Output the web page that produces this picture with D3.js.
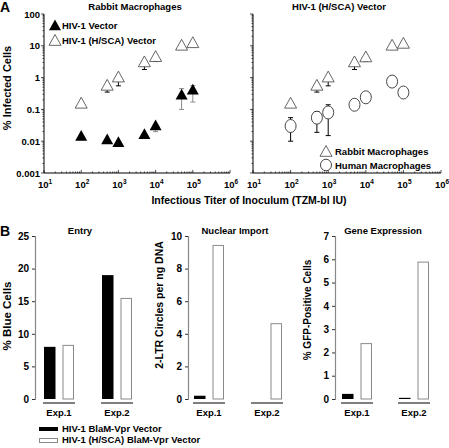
<!DOCTYPE html>
<html><head><meta charset="utf-8">
<script src="https://cdn.jsdelivr.net/npm/d3@7"></script>
<style>body{margin:0;background:#fff}svg{display:block;font-family:"Liberation Sans",Arial,sans-serif;font-weight:bold}</style>
</head><body><svg id="c" width="449" height="448"></svg>
<script>
// Panel A data
const titers = [100, 500, 1000, 5000, 10000, 50000, 100000];
const hivVector = [0.014, 0.011, 0.009, 0.016, 0.03, 0.28, 0.4];
const hivVectorLo = [0.011, null, null, null, 0.02, 0.1, 0.17];
const hivVectorHi = [null, null, null, null, null, 0.45, 0.56];
const hscaRabbit = [0.15, 0.55, 1.0, 3.0, 4.4, 10, 12];
const hscaRabbitLo = [null, 0.35, 0.55, 1.8, 3.2, null, null];
const hscaRabbit2 = [0.15, 0.55, 1.0, 3.0, 4.3, 10, 11.5];
const humanMac = [0.03, 0.055, 0.08, 0.14, 0.24, 0.75, 0.34];
const humanMacLo = [0.01, 0.019, 0.015, 0.1, null, null, null];
const humanMacHi = [0.055, 0.085, 0.14, null, null, null, null];
const yTicksA = [0.001, 0.01, 0.1, 1, 10, 100];
const yTickLabelsA = ["0.001", "0.01", "0.1", "1", "10", "100"];
const xExpA = [1, 2, 3, 4, 5, 6];
// Panel B data
const experiments = ["Exp.1", "Exp.2"];
const entryBlaM = [8.0, 19.0];
const entryHSCA = [8.3, 15.5];
const importBlaM = [0.2, 0];
const importHSCA = [9.45, 4.65];
const geneBlaM = [0.22, 0.05];
const geneHSCA = [2.4, 5.9];

const svg = d3.select("#c");
const gray = "#8a8a8a";

// Panel letters
svg.append("text").attr("x", 0).attr("y", 12).attr("font-size", 14).text("A");
svg.append("text").attr("x", 0).attr("y", 236).attr("font-size", 14).text("B");

const yA = d3.scaleLog().domain([0.001, 100]).range([173, 14]);

function triPath(cx, cy, s) {
  const h = s * 0.9;
  return `M${cx},${cy - h * 0.6}L${cx + s / 2},${cy + h * 0.4}L${cx - s / 2},${cy + h * 0.4}Z`;
}

function logPanel(x0, x1, showY) {
  const x = d3.scaleLog().domain([10, 1e6]).range([x0, x1]);
  const g = svg.append("g");
  g.append("line").attr("x1", x0).attr("x2", x1).attr("y1", 173).attr("y2", 173).attr("stroke", "#000").attr("stroke-width", 1);
  g.append("line").attr("x1", x0).attr("x2", x0).attr("y1", 14).attr("y2", 173).attr("stroke", "#000").attr("stroke-width", 1);
  for (let e = 1; e <= 6; e++) {
    for (let m = 1; m <= 9; m++) {
      const v = m * Math.pow(10, e);
      if (v > 1e6) break;
      const len = m === 1 ? 3 : 1.5;
      g.append("line").attr("x1", x(v)).attr("x2", x(v)).attr("y1", 173).attr("y2", 173 - len).attr("stroke", "#000").attr("stroke-width", 0.7);
    }
  }
  xExpA.forEach(e => {
    const t = g.append("text").attr("x", x(Math.pow(10, e)) + 1).attr("y", 188).attr("text-anchor", "middle").attr("font-size", 9.5);
    t.append("tspan").text("10");
    t.append("tspan").attr("dy", -4).attr("font-size", 6.5).text(e);
  });
  for (let e = -3; e <= 2; e++) {
    for (let m = 1; m <= 9; m++) {
      const v = m * Math.pow(10, e);
      if (v > 100) break;
      const len = m === 1 ? 3 : 1.5;
      g.append("line").attr("x1", x0).attr("x2", x0 - len).attr("y1", yA(v)).attr("y2", yA(v)).attr("stroke", "#000").attr("stroke-width", 0.7);
    }
  }
  if (showY) {
    yTicksA.forEach((v, i) => {
      g.append("text").attr("x", x0 - 4).attr("y", yA(v) + 3.5).attr("text-anchor", "end").attr("font-size", 9.5).text(yTickLabelsA[i]);
    });
  }
  return { x, g };
}

function errBars(g, x, xs, vals, lo, hi, color) {
  xs.forEach((t, i) => {
    [lo ? lo[i] : null, hi ? hi[i] : null].forEach(b => {
      if (b == null) return;
      g.append("line").attr("x1", x(t)).attr("x2", x(t)).attr("y1", yA(vals[i])).attr("y2", yA(b)).attr("stroke", color).attr("stroke-width", 1);
      g.append("line").attr("x1", x(t) - 2.5).attr("x2", x(t) + 2.5).attr("y1", yA(b)).attr("y2", yA(b)).attr("stroke", color).attr("stroke-width", 1);
    });
  });
}

// Left panel
const L = logPanel(44, 230, true);
errBars(L.g, L.x, titers, hscaRabbit, hscaRabbitLo, null, "#000");
errBars(L.g, L.x, titers, hivVector, hivVectorLo, hivVectorHi, gray);
titers.forEach((t, i) => {
  L.g.append("path").attr("d", triPath(L.x(t), yA(hscaRabbit[i]), 12)).attr("fill", "#fff").attr("stroke", "#555").attr("stroke-width", 0.9);
  L.g.append("path").attr("d", triPath(L.x(t), yA(hivVector[i]), 12)).attr("fill", "#000");
});
svg.append("text").attr("x", 135).attr("y", 10).attr("text-anchor", "middle").attr("font-size", 9.5).text("Rabbit Macrophages");
svg.append("path").attr("d", triPath(55, 26, 12)).attr("fill", "#000");
svg.append("text").attr("x", 62).attr("y", 29).attr("font-size", 9.5).text("HIV-1 Vector");
svg.append("path").attr("d", triPath(55, 41, 12)).attr("fill", "#fff").attr("stroke", "#555").attr("stroke-width", 0.9);
svg.append("text").attr("x", 62).attr("y", 44).attr("font-size", 9.5).text("HIV-1 (H/SCA) Vector");

// Right panel
const R = logPanel(253, 441, false);
errBars(R.g, R.x, titers, hscaRabbit2, hscaRabbitLo, null, "#000");
errBars(R.g, R.x, titers, humanMac, humanMacLo, humanMacHi, "#000");
titers.forEach((t, i) => {
  R.g.append("path").attr("d", triPath(R.x(t), yA(hscaRabbit2[i]), 12)).attr("fill", "#fff").attr("stroke", "#555").attr("stroke-width", 0.9);
  R.g.append("ellipse").attr("cx", R.x(t)).attr("cy", yA(humanMac[i])).attr("rx", 5.5).attr("ry", 6.5).attr("fill", "#fff").attr("stroke", "#333").attr("stroke-width", 0.9);
});
svg.append("text").attr("x", 339).attr("y", 10).attr("text-anchor", "middle").attr("font-size", 9.5).text("HIV-1 (H/SCA) Vector");
svg.append("path").attr("d", triPath(326, 152, 12)).attr("fill", "#fff").attr("stroke", "#555").attr("stroke-width", 0.9);
svg.append("text").attr("x", 335).attr("y", 155).attr("font-size", 9.5).text("Rabbit Macrophages");
svg.append("ellipse").attr("cx", 326).attr("cy", 165).attr("rx", 5.5).attr("ry", 5.8).attr("fill", "#fff").attr("stroke", "#333").attr("stroke-width", 0.9);
svg.append("text").attr("x", 335).attr("y", 169).attr("font-size", 9.5).text("Human Macrophages");

svg.append("text").attr("x", 249).attr("y", 204).attr("text-anchor", "middle").attr("font-size", 10.5).text("Infectious Titer of Inoculum (TZM-bl IU)");
svg.append("text").attr("transform", "translate(11,88) rotate(-90)").attr("text-anchor", "middle").attr("font-size", 11).text("% Infected Cells");

// Panel B
function barPanel(opts) {
  const { axisX, ymax, ticks, title, titleX, ylabel, ylabelX, ylabelY, ylabelSize, a, b } = opts;
  const y = d3.scaleLinear().domain([0, ymax]).range([399, 236]);
  const g = svg.append("g");
  g.append("g").attr("transform", `translate(${axisX},0)`)
    .call(d3.axisLeft(y).tickValues(ticks).tickSize(3).tickFormat(d3.format("d")))
    .call(s => {
      s.select(".domain").attr("stroke", "#888").attr("stroke-width", 1.2);
      s.selectAll(".tick line").attr("stroke", "#333");
      s.selectAll("text").attr("font-size", 10).attr("font-family", "Liberation Sans, Arial").attr("font-weight", "bold").attr("fill", "#000");
    });
  experiments.forEach((e, i) => {
    const gx = opts.gx[i];
    const w = 11.5, gap = 7;
    if (a[i] > 0) g.append("rect").attr("x", gx).attr("y", y(a[i])).attr("width", w).attr("height", y(0) - y(a[i])).attr("fill", "#000");
    g.append("rect").attr("x", gx + w + gap + 0.5).attr("y", y(b[i]) + 0.5).attr("width", w - 1).attr("height", y(0) - y(b[i]) - 0.5).attr("fill", "#fff").attr("stroke", gray).attr("stroke-width", 1);
    g.append("line").attr("x1", gx - 1).attr("x2", gx + 2 * w + gap + 1).attr("y1", 403).attr("y2", 403).attr("stroke", "#000").attr("stroke-width", 1);
    g.append("text").attr("x", gx + w + gap / 2).attr("y", 416).attr("text-anchor", "middle").attr("font-size", 9.5).text(e);
  });
  svg.append("text").attr("x", titleX).attr("y", 234).attr("text-anchor", "middle").attr("font-size", 9.5).text(title);
  svg.append("text").attr("transform", `translate(${ylabelX},${ylabelY}) rotate(-90)`).attr("text-anchor", "middle").attr("font-size", ylabelSize).text(ylabel);
}

barPanel({ axisX: 35, ymax: 25, ticks: [0, 5, 10, 15, 20, 25], title: "Entry", titleX: 80, ylabel: "% Blue Cells", ylabelX: 11, ylabelY: 316, ylabelSize: 11.5, a: entryBlaM, b: entryHSCA, gx: [44, 102] });
barPanel({ axisX: 188, ymax: 10, ticks: [0, 2, 4, 6, 8, 10], title: "Nuclear Import", titleX: 235, ylabel: "2-LTR Circles per ng DNA", ylabelX: 163, ylabelY: 305, ylabelSize: 10.5, a: importBlaM, b: importHSCA, gx: [194, 252] });
barPanel({ axisX: 335, ymax: 7, ticks: [0, 1, 2, 3, 4, 5, 6, 7], title: "Gene Expression", titleX: 383, ylabel: "% GFP-Positive Cells", ylabelX: 311, ylabelY: 310, ylabelSize: 10, a: geneBlaM, b: geneHSCA, gx: [342, 399] });

// Bottom legend
svg.append("rect").attr("x", 39).attr("y", 427).attr("width", 19).attr("height", 4).attr("fill", "#000");
svg.append("text").attr("x", 62).attr("y", 432).attr("font-size", 9.5).text("HIV-1 BlaM-Vpr Vector");
svg.append("rect").attr("x", 39.5).attr("y", 438.5).attr("width", 18).attr("height", 4).attr("fill", "#fff").attr("stroke", gray);
svg.append("text").attr("x", 62).attr("y", 443).attr("font-size", 9.5).text("HIV-1 (H/SCA) BlaM-Vpr Vector");
</script></body></html>
